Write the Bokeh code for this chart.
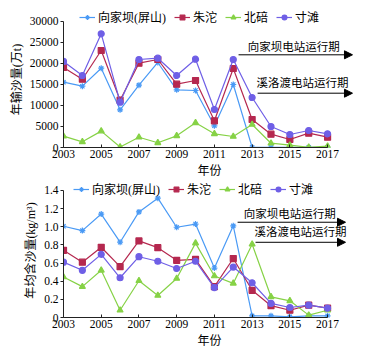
from bokeh.plotting import figure
from bokeh.layouts import column
from bokeh.models import (Range1d, FixedTicker, Legend, LegendItem, Arrow, NormalHead,
                          Label, CustomJSTickFormatter)
from bokeh.embed import file_html
from bokeh.resources import INLINE

years = list(range(2003, 2018))
names = ["向家坝(屏山)", "朱沱", "北碚", "寸滩"]
colors = ["#4a9af5", "#b5284f", "#86d246", "#6f5fe6"]
markers = ["asterisk", "square", "triangle", "circle"]

xjb_load = [15550, 14600, 18880, 8970, 14840, 20240, 13740, 13570, 5170, 15000, 60, 40, 20, 20, 20]
zt_load = [19050, 16260, 23100, 11260, 20070, 20950, 15070, 15950, 6360, 18810, 6670, 3170, 1900, 3410, 2450]
bb_load = [2700, 1350, 3900, 100, 2450, 1120, 2780, 5880, 3260, 2620, 5480, 1020, 550, 50, 310]
ct_load = [20500, 17140, 27070, 10800, 20950, 21260, 17140, 21020, 9050, 20950, 11900, 5000, 3100, 4050, 3260]

xjb_conc = [1.006, 0.958, 1.14, 0.83, 1.164, 1.315, 0.995, 1.03, 0.545, 1.01, 0.018, 0.018, 0.007, 0.018, 0.018]
zt_conc = [0.74, 0.61, 0.774, 0.56, 0.844, 0.77, 0.63, 0.64, 0.34, 0.65, 0.30, 0.13, 0.08, 0.136, 0.103]
bb_conc = [0.446, 0.34, 0.52, 0.08, 0.405, 0.243, 0.43, 0.82, 0.457, 0.376, 0.807, 0.228, 0.184, 0.026, 0.08]
ct_conc = [0.61, 0.52, 0.696, 0.438, 0.67, 0.62, 0.54, 0.62, 0.33, 0.556, 0.383, 0.155, 0.11, 0.136, 0.103]

x_major = [2003, 2005, 2007, 2009, 2011, 2013, 2015, 2017]
load_ticks = [0, 5000, 10000, 15000, 20000, 25000, 30000]
conc_ticks = [0, 0.2, 0.4, 0.6, 0.8, 1.0, 1.2, 1.4]

arrow_texts = ["向家坝电站运行期", "溪洛渡电站运行期"]

FONT = "Liberation Serif, Noto Sans CJK SC"


def make_fig(series, yticks, ytop, yrange_end, frame_h, ylabel, border_top, border_bottom,
             legend_xy, arrows, fmt=None):
    p = figure(frame_width=292, frame_height=frame_h, output_backend="svg", toolbar_location=None,
               x_range=Range1d(2003, 2018.48), y_range=Range1d(0, yrange_end),
               min_border_left=63, min_border_right=15, min_border_top=border_top,
               min_border_bottom=border_bottom)
    p.outline_line_color = None
    p.xgrid.grid_line_color = None
    p.ygrid.grid_line_color = None
    p.background_fill_color = "white"

    items = []
    for name, vals, c, m in zip(names, series, colors, markers):
        r1 = p.line(years, vals, line_color=c, line_width=1.2)
        r2 = p.scatter(years, vals, marker=m, size=6,
                       fill_color=c, line_color=c, line_width=1.2)
        items.append(LegendItem(label=name, renderers=[r1, r2]))

    xa = p.xaxis[0]
    xa.ticker = FixedTicker(ticks=x_major)
    xa.bounds = (2003, 2017)
    xa.major_tick_in = 3
    xa.major_tick_out = 0
    xa.minor_tick_line_color = None
    xa.axis_label = "年份"
    ya = p.yaxis[0]
    ya.ticker = FixedTicker(ticks=yticks)
    ya.bounds = (0, ytop)
    ya.major_tick_in = 0
    ya.major_tick_out = 3
    ya.minor_tick_line_color = None
    ya.axis_label = ylabel
    if fmt is not None:
        ya.formatter = fmt
    for ax in (xa, ya):
        ax.axis_line_color = "#222222"
        ax.major_tick_line_color = "#222222"
        ax.major_label_text_font = FONT
        ax.major_label_text_font_size = "11.5px"
        ax.major_label_text_color = "black"
        ax.axis_label_text_font = FONT
        ax.axis_label_text_font_size = "12px"
        ax.axis_label_text_font_style = "normal"
        ax.axis_label_text_color = "black"
        ax.major_label_standoff = 2
        ax.axis_label_standoff = 3

    leg = Legend(items=items, orientation="horizontal", location=legend_xy,
                 glyph_width=16, glyph_height=12, label_height=14, label_standoff=3,
                 spacing=8, padding=0, margin=0, border_line_color=None,
                 background_fill_alpha=0, label_text_font=FONT, label_text_font_size="12px",
                 label_text_color="black")
    p.add_layout(leg)

    for (x0, x1, y, tx, ty, txt) in arrows:
        p.add_layout(Arrow(x_start=x0, y_start=y, x_end=x1, y_end=y, line_color="black",
                           line_width=1,
                           end=NormalHead(size=8, fill_color="black", line_color="black")))
        p.add_layout(Label(x=tx, y=ty, text=txt, text_align="center", text_baseline="middle",
                           text_font=FONT, text_font_size="11.5px", text_color="black"))
    return p


p1 = make_fig([xjb_load, zt_load, bb_load, ct_load], load_ticks, 30000, 32380, 136,
              "年输沙量(万t)", 11, 33, (16, 121),
              [(2012.28, 2018.32, 22070, 2015.2, 23900, arrow_texts[0]),
               (2013.29, 2018.32, 12930, 2015.67, 15400, arrow_texts[1])])

fmt = CustomJSTickFormatter(code="return tick == 0 ? '0' : tick.toFixed(1);")
p2 = make_fig([xjb_conc, zt_conc, bb_conc, ct_conc], conc_ticks, 1.4, 1.477, 134,
              "年均含沙量(kg/m³)", 3, 37, (10, 119),
              [(2012.23, 2017.95, 1.05, 2015.0, 1.14, arrow_texts[0]),
               (2013.18, 2017.95, 0.829, 2015.57, 0.94, arrow_texts[1])],
              fmt=fmt)

layout = column(p1, p2, spacing=0)
open("out.html", "w").write(file_html(layout, INLINE))
